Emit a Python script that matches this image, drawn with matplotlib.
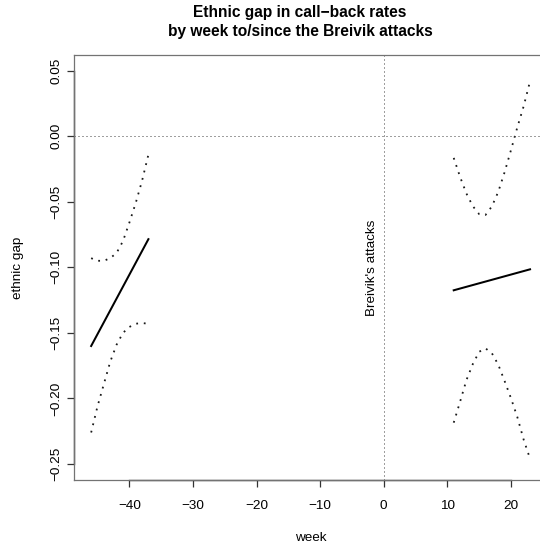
import matplotlib
matplotlib.use("Agg")
import matplotlib.pyplot as plt
import numpy as np

plt.rcParams['font.family'] = ['Liberation Sans', 'DejaVu Sans']

# ---- data ----
left_weeks = [-46, -45, -44, -43, -42, -41, -40, -39, -38, -37]
left_upper = [-0.093, -0.095, -0.095, -0.093, -0.089, -0.080, -0.066, -0.051, -0.034, -0.014]
left_lower = [-0.226, -0.206, -0.189, -0.172, -0.159, -0.150, -0.1455, -0.143, -0.1425, -0.143]
left_line_weeks = [-46, -37]
left_line = [-0.160, -0.0785]

right_weeks = [11, 12, 13, 14, 15, 16, 17, 18, 19, 20, 21, 22, 23]
right_upper = [-0.0165, -0.031, -0.0437, -0.0533, -0.0594, -0.0600, -0.0535, -0.0424,
               -0.0274, -0.0106, 0.0068, 0.023, 0.042]
right_lower = [-0.2185, -0.2025, -0.186, -0.1738, -0.1644, -0.1618, -0.1655, -0.1742,
               -0.1867, -0.1998, -0.2142, -0.2315, -0.246]
right_line_weeks = [11, 23]
right_line = [-0.1175, -0.1015]

event_week = 0
event_label = "Breivik's attacks"
xticks = [-40, -30, -20, -10, 0, 10, 20]
yticks = [-0.25, -0.20, -0.15, -0.10, -0.05, 0.00, 0.05]
ytick_labels = ["\u22120.25", "\u22120.20", "\u22120.15", "\u22120.10", "\u22120.05", "0.00", "0.05"]
title_lines = ["Ethnic gap in call\u2212back rates", "by week to/since the Breivik attacks"]

# ---- figure ----
W, H = 540, 547
fig = plt.figure(figsize=(W / 100, H / 100), dpi=100)
ax_left, ax_right, ax_top, ax_bottom = 73.6, 547.6, 55.0, 479.7
ax = fig.add_axes([ax_left / W, 1 - ax_bottom / H, (ax_right - ax_left) / W, (ax_bottom - ax_top) / H])

xmin, xmax = -46, 23
ymin, ymax = -0.25, 0.05
dx, dy = 0.04 * (xmax - xmin), 0.04 * (ymax - ymin)
ax.set_xlim(xmin - dx, xmax + dx)
ax.set_ylim(ymin - dy, ymax + dy)

ci_style = dict(color='0.1', linewidth=1.3, linestyle=(0, (1, 3.2)), dash_capstyle='butt')
ax.plot(left_weeks, left_upper, **ci_style)
ax.plot(left_weeks, left_lower, **ci_style)
ax.plot(right_weeks, right_upper, **ci_style)
ax.plot(right_weeks, right_lower, **ci_style)
ax.plot(left_line_weeks, left_line, color='black', linewidth=1.45)
ax.plot(right_line_weeks, right_line, color='black', linewidth=1.45)

ref_style = dict(color='0.25', linewidth=0.72, linestyle=(0, (1, 3)))
ax.axhline(0, **ref_style)
ax.axvline(event_week, **ref_style)
ax.text(event_week - 1.9, -0.10, event_label, rotation=90, ha='center', va='center', fontsize=9.7)

for s in ax.spines.values():
    s.set_color('0.45')
    s.set_linewidth(0.9)

ax.set_xticks(xticks)
ax.set_xticklabels([("\u2212" if t < 0 else "") + str(abs(t)) for t in xticks])
ax.set_yticks(yticks)
ax.set_yticklabels(ytick_labels)
ax.tick_params(axis='both', direction='out', length=5, width=0.9, color='0.2', labelsize=9.7)
ax.tick_params(axis='x', pad=9.5)
ax.tick_params(axis='y', pad=3)
for lbl in ax.get_yticklabels():
    lbl.set_rotation(90)
    lbl.set_va('center')
    lbl.set_ha('right')

# axis lines spanning first to last tick (R style)
y0 = ax.get_ylim()[0]
x0 = ax.get_xlim()[0]
ax.plot([xticks[0], xticks[-1]], [y0, y0], color='0.2', linewidth=1.0, clip_on=False)
ax.plot([x0, x0], [yticks[0], yticks[-1]], color='0.2', linewidth=1.0, clip_on=False)

ax.set_xlabel("week", fontsize=9.7)
ax.xaxis.set_label_coords(0.5, -(538 - ax_bottom) / (ax_bottom - ax_top))
ax.xaxis.label.set_va('center')
ax.set_ylabel("ethnic gap", fontsize=9.7)
ax.yaxis.set_label_coords((18 - ax_left) / (ax_right - ax_left), 0.5)
ax.yaxis.label.set_va('center')

fig.text(300 / W, 1 - 12.7 / H, title_lines[0], ha='center', va='center', fontsize=11.2, fontweight='bold')
fig.text(300 / W, 1 - 31.7 / H, title_lines[1], ha='center', va='center', fontsize=11.2, fontweight='bold')

fig.savefig("out.png", dpi=100)
